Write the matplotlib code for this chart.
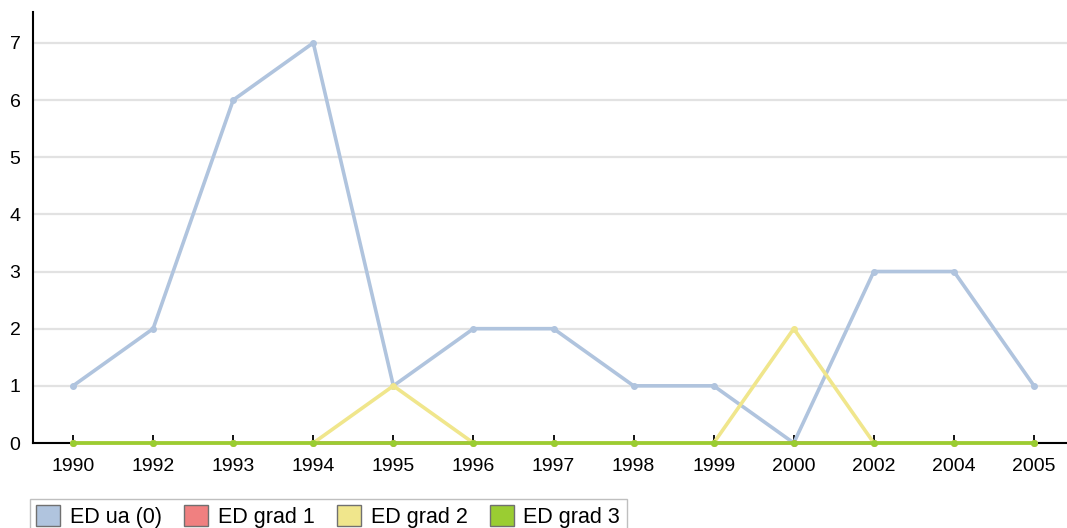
import matplotlib
matplotlib.use("Agg")
import matplotlib.pyplot as plt
from matplotlib.patches import Patch

years = ["1990", "1992", "1993", "1994", "1995", "1996", "1997", "1998", "1999", "2000", "2002", "2004", "2005"]
ed_ua0 = [1, 2, 6, 7, 1, 2, 2, 1, 1, 0, 3, 3, 1]
ed_grad1 = [0, 0, 0, 0, 0, 0, 0, 0, 0, 0, 0, 0, 0]
ed_grad2 = [0, 0, 0, 0, 1, 0, 0, 0, 0, 2, 0, 0, 0]
ed_grad3 = [0, 0, 0, 0, 0, 0, 0, 0, 0, 0, 0, 0, 0]

series = [
    ("ED ua (0)", ed_ua0, "#B0C4DE"),
    ("ED grad 1", ed_grad1, "#F08080"),
    ("ED grad 2", ed_grad2, "#F0E68C"),
    ("ED grad 3", ed_grad3, "#9ACD32"),
]

plt.rcParams['font.family'] = ['Liberation Sans', 'DejaVu Sans']

W, H = 1067, 528
fig = plt.figure(figsize=(W / 100, H / 100), dpi=100)
ax = fig.add_axes([33 / W, 1 - 443 / H, (W - 33) / W, (443 - 12) / H])

x = list(range(len(years)))
for name, vals, col in series:
    ax.plot(x, vals, color=col, lw=2.6, marker='o', ms=4, mec=col, mfc=col,
            solid_joinstyle='round', clip_on=False, zorder=3)

ax.set_xlim(-0.5, 12 + (1067 - 1034) / 80.1)
ax.set_ylim(0, 7.54)
ax.set_yticks(range(0, 8))
ax.set_xticks(x)
ax.set_xticklabels(years)
ax.grid(axis='y', color='#e2e2e2', lw=1.6)
ax.set_axisbelow(True)
for s in ['top', 'right']:
    ax.spines[s].set_visible(False)
ax.spines['left'].set_linewidth(1.5)
ax.spines['bottom'].set_linewidth(1.5)
ax.tick_params(axis='y', length=0, pad=9, labelsize=14)
ax.tick_params(axis='x', direction='in', length=6, width=1.3, pad=11, labelsize=14)

handles = [Patch(facecolor=c, edgecolor='#707070', label=n) for n, _, c in series]
leg = fig.legend(handles=handles, loc='upper left', bbox_to_anchor=(30 / W, 1 - 499 / H),
                 ncol=4, frameon=True, fontsize=15.5, handlelength=1.1, handleheight=1.1,
                 handletextpad=0.45, columnspacing=1.05, borderpad=0.3, borderaxespad=0)
leg.get_frame().set_edgecolor('#b0b0b0')
leg.get_frame().set_boxstyle('square', pad=0)
leg.get_frame().set_linewidth(1.0)

fig.savefig("out.png", dpi=100)
